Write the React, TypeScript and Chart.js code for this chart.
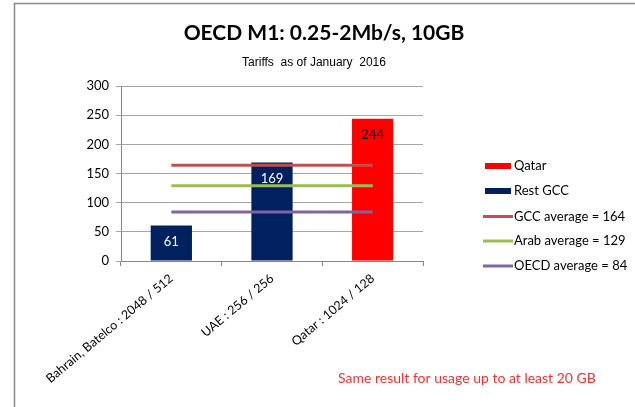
import React, { useEffect, useRef } from "react";
import { Chart, registerables } from "chart.js";

Chart.register(...registerables);

const categories = ["Bahrain, Batelco : 2048 / 512", "UAE : 256 / 256", "Qatar : 1024 / 128"];
const qatarValues: (number | null)[] = [null, null, 244];
const restGccValues: (number | null)[] = [61, 169, null];
const gccAverage = [164, 164, 164];
const arabAverage = [129, 129, 129];
const oecdAverage = [84, 84, 84];
const yMin = 0;
const yMax = 300;
const yStep = 50;

const titleText = "OECD M1: 0.25-2Mb/s, 10GB";
const subtitleText = "Tariffs  as of January  2016";
const noteText = "Same result for usage up to at least 20 GB";
const legendLabels = ["Qatar", "Rest GCC", "GCC average = 164", "Arab average = 129", "OECD average = 84"];

const C_QATAR = "#FF0000";
const C_REST = "#002060";
const C_GCC = "#C0504D";
const C_ARAB = "#9BBB59";
const C_OECD = "#8064A2";
const FONT = "Lato, 'Open Sans', sans-serif";

export default function App() {
  const ref = useRef<HTMLCanvasElement | null>(null);

  useEffect(() => {
    if (!ref.current) return;

    const decor = {
      id: "decor",
      afterDatasetsDraw(chart: any) {
        const ctx = chart.ctx;
        ctx.save();
        ctx.font = `13px ${FONT}`;
        ctx.textAlign = "center";
        ctx.textBaseline = "middle";
        [0, 1].forEach((di) => {
          const meta = chart.getDatasetMeta(di);
          const data = chart.data.datasets[di].data as (number | null)[];
          meta.data.forEach((el: any, i: number) => {
            const v = data[i];
            if (v == null) return;
            ctx.fillStyle = di === 0 ? "#000000" : "#FFFFFF";
            ctx.fillText(String(v), el.x, el.y + 16);
          });
        });
        ctx.restore();
      },
      afterDraw(chart: any) {
        const ctx = chart.ctx;
        ctx.save();
        // frame
        ctx.strokeStyle = "#8a8a8a";
        ctx.lineWidth = 1.5;
        ctx.beginPath();
        ctx.moveTo(14.5, 407);
        ctx.lineTo(14.5, 3.5);
        ctx.lineTo(635, 3.5);
        ctx.stroke();
        // title
        ctx.fillStyle = "#000000";
        ctx.textAlign = "center";
        ctx.textBaseline = "middle";
        ctx.font = `bold 21px ${FONT}`;
        ctx.fillText(titleText, 324, 33);
        ctx.font = `12px 'Liberation Sans', Arial, sans-serif`;
        ctx.fillText(subtitleText, 314, 63);
        // note
        ctx.fillStyle = "#FF2B2B";
        ctx.textAlign = "left";
        ctx.font = `14px ${FONT}`;
        ctx.fillText(noteText, 338, 378);
        // legend
        const ys = [166, 191, 216.5, 241, 266];
        const kinds = ["box", "box", "line", "line", "line"];
        const cols = [C_QATAR, C_REST, C_GCC, C_ARAB, C_OECD];
        ctx.font = `13px ${FONT}`;
        legendLabels.forEach((lab, i) => {
          const y = ys[i];
          if (kinds[i] === "box") {
            ctx.fillStyle = cols[i];
            ctx.fillRect(485, y - 3, 26, 6);
          } else {
            ctx.strokeStyle = cols[i];
            ctx.lineWidth = 3;
            ctx.beginPath();
            ctx.moveTo(483, y);
            ctx.lineTo(513, y);
            ctx.stroke();
          }
          ctx.fillStyle = "#000000";
          ctx.fillText(lab, 514, y);
        });
        ctx.restore();
      },
    };

    const chart = new Chart(ref.current, {
      type: "bar",
      data: {
        labels: categories,
        datasets: [
          {
            type: "bar",
            label: "Qatar",
            data: qatarValues,
            backgroundColor: C_QATAR,
            grouped: false,
            barPercentage: 0.41,
            categoryPercentage: 1,
            order: 2,
          } as any,
          {
            type: "bar",
            label: "Rest GCC",
            data: restGccValues,
            backgroundColor: C_REST,
            grouped: false,
            barPercentage: 0.41,
            categoryPercentage: 1,
            order: 2,
          } as any,
          {
            type: "line",
            label: "GCC average = 164",
            data: gccAverage,
            borderColor: C_GCC,
            borderWidth: 3,
            pointRadius: 0,
            order: 0,
          },
          {
            type: "line",
            label: "Arab average = 129",
            data: arabAverage,
            borderColor: C_ARAB,
            borderWidth: 3,
            pointRadius: 0,
            order: 0,
          },
          {
            type: "line",
            label: "OECD average = 84",
            data: oecdAverage,
            borderColor: C_OECD,
            borderWidth: 3,
            pointRadius: 0,
            order: 0,
          },
        ],
      },
      options: {
        animation: false,
        responsive: true,
        maintainAspectRatio: false,
        layout: { padding: { top: 86, left: 15, right: 212, bottom: 0 } },
        plugins: {
          legend: { display: false },
          title: { display: false },
          tooltip: { enabled: false },
        },
        scales: {
          x: {
            offset: true,
            grid: {
              offset: true,
              drawOnChartArea: false,
              drawTicks: true,
              tickLength: 5,
              color: "#868686",
            },
            border: { color: "#868686" },
            ticks: {
              minRotation: 40,
              maxRotation: 40,
              autoSkip: false,
              color: "#000000",
              font: { family: FONT, size: 12.5 },
              padding: 5,
            },
            afterFit: (s: any) => {
              s.height = 146;
            },
          },
          y: {
            min: yMin,
            max: yMax,
            ticks: {
              stepSize: yStep,
              color: "#000000",
              font: { family: FONT, size: 13 },
              padding: 7,
            },
            grid: { color: "#A6A6A6", tickLength: 5 },
            border: { color: "#868686" },
            afterFit: (s: any) => {
              s.width = 106;
            },
          },
        },
      },
      plugins: [decor],
    });

    return () => chart.destroy();
  }, []);

  return (
    <div style={{ position: "absolute", left: 0, top: 0, width: 635, height: 407, background: "#fff" }}>
      <canvas ref={ref} />
    </div>
  );
}
